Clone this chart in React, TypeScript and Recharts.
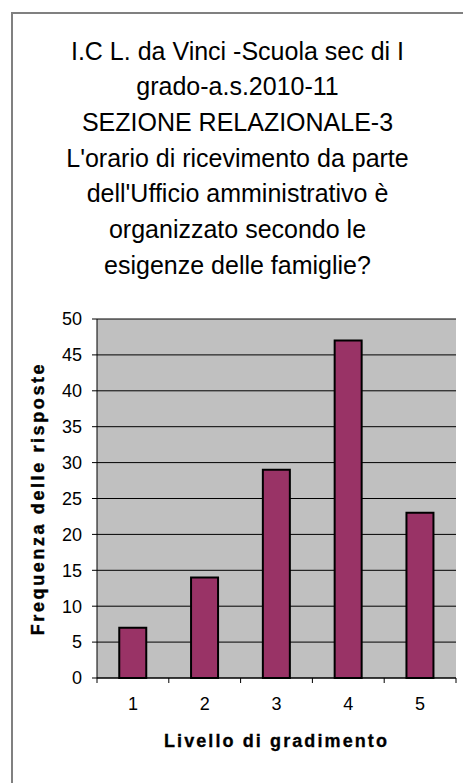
import { BarChart, Bar, XAxis, YAxis, CartesianGrid } from "recharts";

// values
const levels = ["1", "2", "3", "4", "5"];
const frequencies = [7, 14, 29, 47, 23];
const yTicks = [0, 5, 10, 15, 20, 25, 30, 35, 40, 45, 50];
const titleLines = [
  "I.C L. da Vinci -Scuola sec di I",
  "grado-a.s.2010-11",
  "SEZIONE RELAZIONALE-3",
  "L'orario di ricevimento da parte",
  "dell'Ufficio amministrativo è",
  "organizzato secondo le",
  "esigenze delle famiglie?",
];
const xTitle = "Livello di gradimento";
const yTitle = "Frequenza delle risposte";

const data = levels.map((level, i) => ({ level, count: frequencies[i] }));

const FONT = '"Liberation Sans", Arial, sans-serif';
const TICK_SIZE = 5;
const X_TICK_MARGIN = 14;

// tick label at the category centre, tick mark at the category boundary
function LevelTick(props: any) {
  const { x, y, payload, index, visibleTicksCount } = props;
  const half = payload?.offset ?? 0;
  const y2 = y - X_TICK_MARGIN;
  const y1 = y2 - TICK_SIZE;
  return (
    <g>
      <line x1={x - half} x2={x - half} y1={y1} y2={y2} stroke="#000" />
      {index === visibleTicksCount - 1 && (
        <line x1={x + half} x2={x + half} y1={y1} y2={y2} stroke="#000" />
      )}
      <text x={x} y={y} dy="0.71em" textAnchor="middle" fontSize={18} fontFamily={FONT} fill="#000">
        {payload.value}
      </text>
    </g>
  );
}

function YTitle(props: any) {
  const vb = props.viewBox;
  const cx = vb.x + 44;
  const cy = vb.y + vb.height / 2;
  return (
    <text
      x={cx}
      y={cy}
      transform={`rotate(-90, ${cx}, ${cy})`}
      textAnchor="middle"
      fontFamily={FONT}
      fontWeight="bold"
      fontSize={18}
      letterSpacing={2.6}
      stroke="#000"
      strokeWidth={0.4}
      fill="#000"
    >
      {yTitle}
    </text>
  );
}

function XTitle(props: any) {
  const vb = props.viewBox;
  return (
    <text
      x={vb.x + vb.width / 2}
      y={vb.y + 69}
      textAnchor="middle"
      fontFamily={FONT}
      fontWeight="bold"
      fontSize={18}
      letterSpacing={2.1}
      stroke="#000"
      strokeWidth={0.3}
      fill="#000"
    >
      {xTitle}
    </text>
  );
}

export default function App() {
  return (
    <div
      style={{
        position: "absolute",
        left: 0,
        top: 0,
        width: 463,
        height: 783,
        overflow: "hidden",
        background: "#fff",
        fontFamily: FONT,
      }}
    >
      <div
        style={{
          position: "absolute",
          left: 11,
          top: 12,
          width: 600,
          height: 900,
          borderLeft: "2px solid #808080",
          borderTop: "2px solid #808080",
        }}
      />
      <div
        style={{
          position: "absolute",
          left: 12,
          top: 33.5,
          width: 451,
          textAlign: "center",
          fontSize: 25,
          lineHeight: "35.7px",
          color: "#000",
        }}
      >
        {titleLines.map((line) => (
          <div key={line}>{line}</div>
        ))}
      </div>
      <div style={{ position: "absolute", left: 0, top: 0 }}>
        <BarChart
          width={463}
          height={783}
          data={data}
          margin={{ top: 319, right: 7, bottom: 45, left: 0 }}
          barCategoryGap="31%"
        >
          <CartesianGrid vertical={false} fill="#C0C0C0" fillOpacity={1} stroke="#000" />
          <XAxis
            dataKey="level"
            height={60}
            axisLine={{ stroke: "#000" }}
            tickLine={false}
            tickSize={TICK_SIZE}
            tickMargin={X_TICK_MARGIN}
            tick={<LevelTick />}
            interval={0}
            label={<XTitle />}
          />
          <XAxis
            xAxisId="frame"
            dataKey="level"
            orientation="top"
            height={0}
            axisLine={{ stroke: "#808080" }}
            tick={false}
            tickLine={false}
          />
          <YAxis
            width={97}
            domain={[0, 50]}
            ticks={yTicks}
            interval={0}
            axisLine={{ stroke: "#000" }}
            tickLine={{ stroke: "#000" }}
            tickSize={TICK_SIZE}
            tickMargin={10}
            tick={{ fill: "#000", fontSize: 18, fontFamily: FONT }}
            label={<YTitle />}
          />
          <YAxis
            yAxisId="frame"
            orientation="right"
            width={0}
            domain={[0, 50]}
            axisLine={{ stroke: "#808080" }}
            tick={false}
            tickLine={false}
          />
          <Bar
            dataKey="count"
            fill="#993366"
            stroke="#000"
            strokeWidth={2}
            isAnimationActive={false}
          />
        </BarChart>
      </div>
    </div>
  );
}
